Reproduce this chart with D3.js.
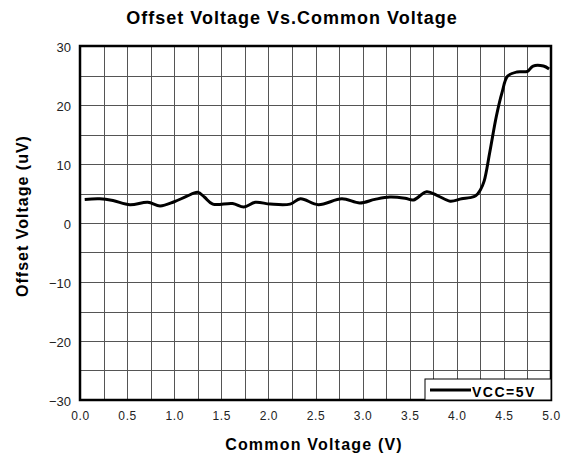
<!DOCTYPE html>
<meta charset="utf-8">
<style>
    body { margin: 0; background: #fff; }
    text { font-family: "Liberation Sans", Arial, sans-serif; }
    .grid line { stroke: #555; stroke-width: 1px; shape-rendering: crispEdges; }
</style>
<body>
<div id="chart"></div>
<script src="https://d3js.org/d3.v7.min.js"></script>
<script>
    var xVals = [0.05, 0.21, 0.35, 0.53, 0.72, 0.85, 1.0, 1.13, 1.25, 1.32, 1.41, 1.62, 1.74, 1.86,
        2.02, 2.23, 2.34, 2.53, 2.78, 2.97, 3.13, 3.29, 3.45, 3.54, 3.68, 3.8, 3.93, 4.05, 4.14, 4.2,
        4.25, 4.29, 4.35, 4.42, 4.48, 4.54, 4.64, 4.75, 4.81, 4.92, 4.98];
    var offsetVals = [4.0, 4.1, 3.8, 3.1, 3.5, 2.9, 3.6, 4.5, 5.2, 4.4, 3.2, 3.3, 2.7, 3.5,
        3.2, 3.2, 4.1, 3.1, 4.1, 3.4, 4.0, 4.4, 4.2, 3.9, 5.3, 4.6, 3.7, 4.1, 4.3, 4.6,
        5.6, 7.1, 12.0, 18.1, 22.1, 24.9, 25.6, 25.7, 26.6, 26.6, 26.1];
    var xTicks = [0, 0.5, 1, 1.5, 2, 2.5, 3, 3.5, 4, 4.5, 5];
    var yTicks = [-30, -20, -10, 0, 10, 20, 30];
    var seriesName = "VCC=5V";

    var width = 570, height = 459;
    var plotLeft = 80, plotRight = 551, plotTop = 46, plotBottom = 400;

    var svg = d3.select("#chart").append("svg")
        .attr("width", width)
        .attr("height", height);

    var x = d3.scaleLinear().domain([0, 5]).range([plotLeft, plotRight]);
    var y = d3.scaleLinear().domain([-30, 30]).range([plotBottom, plotTop]);

    // grid
    var grid = svg.append("g").attr("class", "grid");
    grid.selectAll(".vx")
        .data(d3.range(1, 20).map(function (i) { return i * 0.25; }))
        .enter().append("line")
        .attr("x1", function (d) { return Math.round(x(d)) + 0.5; })
        .attr("x2", function (d) { return Math.round(x(d)) + 0.5; })
        .attr("y1", plotTop).attr("y2", plotBottom);
    grid.selectAll(".hy")
        .data(d3.range(-25, 30, 5))
        .enter().append("line")
        .attr("y1", function (d) { return Math.round(y(d)) + 0.5; })
        .attr("y2", function (d) { return Math.round(y(d)) + 0.5; })
        .attr("x1", plotLeft).attr("x2", plotRight);

    // curve
    var data = xVals.map(function (d, i) { return { v: d, o: offsetVals[i] }; });
    var line = d3.line()
        .x(function (d) { return x(d.v); })
        .y(function (d) { return y(d.o); })
        .curve(d3.curveCatmullRom.alpha(0.5));
    svg.append("path")
        .datum(data)
        .attr("d", line)
        .attr("fill", "none")
        .attr("stroke", "#000")
        .attr("stroke-width", 3)
        .attr("stroke-linejoin", "round");

    // frame
    svg.append("rect")
        .attr("x", plotLeft).attr("y", plotTop)
        .attr("width", plotRight - plotLeft).attr("height", plotBottom - plotTop)
        .attr("fill", "none")
        .attr("stroke", "#000")
        .attr("stroke-width", 2.5);

    // axes
    var xAxis = d3.axisBottom(x).tickValues(xTicks).tickSize(0).tickPadding(11)
        .tickFormat(d3.format(".1f"));
    var gx = svg.append("g").attr("transform", "translate(0," + plotBottom + ")").call(xAxis);
    gx.select(".domain").remove();
    gx.selectAll("text")
        .attr("font-family", "Liberation Sans, Arial, sans-serif")
        .attr("font-size", 12)
        .attr("letter-spacing", "0.6px")
        .attr("fill", "#222");

    var yAxis = d3.axisLeft(y).tickValues(yTicks).tickSize(0).tickPadding(9);
    var gy = svg.append("g").attr("transform", "translate(" + plotLeft + ",0)").call(yAxis);
    gy.select(".domain").remove();
    gy.selectAll("text")
        .attr("font-family", "Liberation Sans, Arial, sans-serif")
        .attr("font-size", 13)
        .attr("dy", "0.45em")
        .attr("fill", "#222");

    // titles
    svg.append("text")
        .attr("x", 292).attr("y", 24)
        .attr("text-anchor", "middle")
        .attr("font-weight", "bold")
        .attr("font-size", 18)
        .attr("letter-spacing", "1px")
        .text("Offset Voltage Vs.Common Voltage");

    svg.append("text")
        .attr("x", 314).attr("y", 450)
        .attr("text-anchor", "middle")
        .attr("font-weight", "bold")
        .attr("font-size", 16)
        .attr("letter-spacing", "1.2px")
        .text("Common Voltage (V)");

    svg.append("text")
        .attr("transform", "translate(28,216) rotate(-90)")
        .attr("text-anchor", "middle")
        .attr("font-weight", "bold")
        .attr("font-size", 16)
        .attr("letter-spacing", "1px")
        .text("Offset Voltage (uV)");

    // legend
    var lg = svg.append("g");
    lg.append("rect")
        .attr("x", 425).attr("y", 379)
        .attr("width", plotRight - 425).attr("height", plotBottom - 379)
        .attr("fill", "#fff")
        .attr("stroke", "#000")
        .attr("stroke-width", 1);
    lg.append("line")
        .attr("x1", 430).attr("x2", 471)
        .attr("y1", 390).attr("y2", 390)
        .attr("stroke", "#000").attr("stroke-width", 3);
    lg.append("text")
        .attr("x", 472).attr("y", 397)
        .attr("font-weight", "bold")
        .attr("font-size", 14)
        .attr("letter-spacing", "1.5px")
        .text(seriesName);
</script>
</body>
